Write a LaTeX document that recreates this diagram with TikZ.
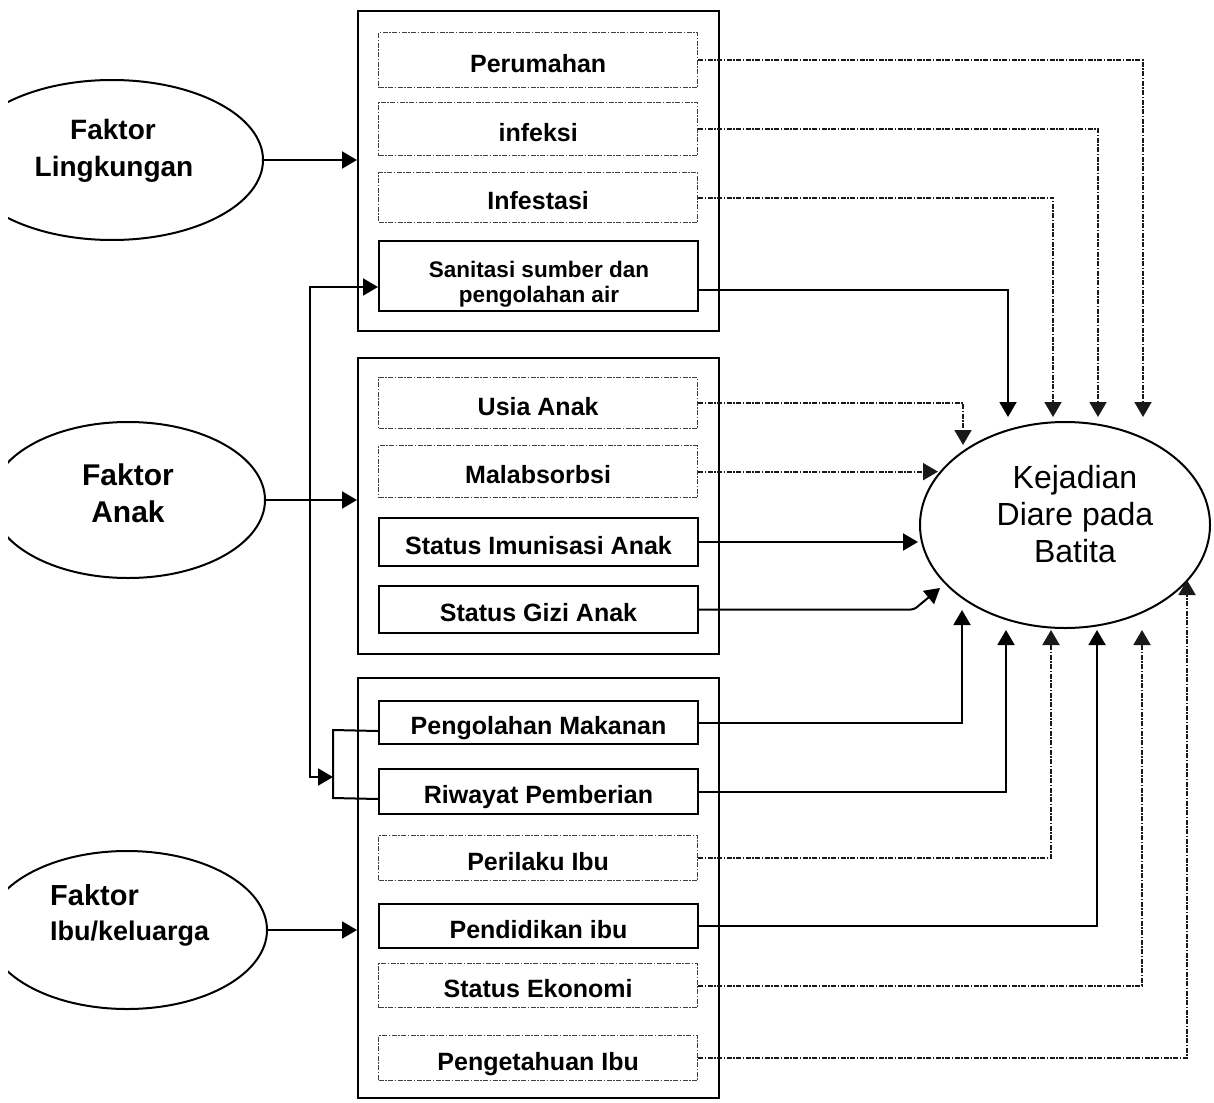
\documentclass[tikz,border=0pt]{standalone}
\usepackage{fontspec}
\setmainfont{Liberation Sans}
\usetikzlibrary{shapes.geometric,arrows.meta,calc}
\newcommand{\boxfont}{\bfseries\fontsize{25}{30}\selectfont}
\begin{document}
\begin{tikzpicture}[x=1pt,y=-1pt]
\tikzset{
  tip/.style={-{Triangle[length=15pt,width=17pt]}},
  solidline/.style={line width=2pt},
  dotdash/.style={dash pattern=on 5pt off 1.5pt on 1.5pt off 1.5pt},
  link/.style={solidline, tip},
  dlink/.style={line width=1.9pt, dotdash, tip, black!90},
  grp/.style={draw, line width=2.2pt, anchor=north west, inner sep=0pt},
  item/.style={draw, line width=2pt, anchor=north west, inner sep=0pt,
    minimum width=319pt, text height=30pt, text depth=6pt, font=\boxfont},
  ditem/.style={item, line width=1.3pt, dotdash, draw=black!75},
  ell/.style={draw, ellipse, line width=2pt, inner sep=0pt},
  lbl/.style={inner sep=0pt, anchor=base},
}
\fill[white] (0,0) rectangle (1214,1102);
\useasboundingbox (0,0) rectangle (1214,1102);

% factor ellipses on the left, cut by the page edge
\begin{scope}
  \clip (8,0) rectangle (400,1102);
  \node[ell, minimum width=302pt, minimum height=160pt] (ling) at (112,160) {};
  \node[ell, minimum width=274pt, minimum height=156pt] (anak) at (128,500) {};
  \node[ell, minimum width=280pt, minimum height=158pt] (ibu) at (127,930) {};
\end{scope}
\node[lbl, font=\bfseries\fontsize{28}{34}\selectfont] (lingA) at (113,140) {Faktor};
\node[lbl, font=\bfseries\fontsize{28}{34}\selectfont] (lingB) at (114,177) {Lingkungan};
\node[lbl, font=\bfseries\fontsize{30}{36}\selectfont] (anakA) at (128,485) {Faktor};
\node[lbl, font=\bfseries\fontsize{30}{36}\selectfont] (anakB) at (128,522) {Anak};
\node[lbl, anchor=base west, font=\bfseries\fontsize{29}{35}\selectfont] (ibuA) at (50,905) {Faktor};
\node[lbl, anchor=base west, font=\bfseries\fontsize{27}{33}\selectfont] (ibuB) at (50,940) {Ibu/keluarga};

% group frames
\node[grp, minimum width=361pt, minimum height=320pt] (g1) at (357,10) {};
\node[grp, minimum width=361pt, minimum height=296pt] (g2) at (357,357) {};
\node[grp, minimum width=361pt, minimum height=420pt] (g3) at (357,677) {};

% environment factors
\node[ditem, minimum height=55pt] (per) at (378,32) {Perumahan};
\node[ditem, minimum height=53pt] (inf) at (378,102) {infeksi};
\node[ditem, minimum height=50pt] (ist) at (378,172) {Infestasi};
\node[item, minimum height=70pt] (san) at (378,240) {};
\node[lbl, font=\bfseries\fontsize{22.5}{25}\selectfont] (sanA) at (539,277) {Sanitasi sumber dan};
\node[lbl, font=\bfseries\fontsize{22.5}{25}\selectfont] (sanB) at (539,302) {pengolahan air};

% child factors
\node[ditem, minimum height=51pt] (usia) at (378,377) {Usia Anak};
\node[ditem, minimum height=52pt] (mal) at (378,445) {Malabsorbsi};
\node[item, minimum height=48pt] (imu) at (378,517) {Status Imunisasi Anak};
\node[item, minimum height=47pt] (gizi) at (378,585) {Status Gizi Anak};

% mother / family factors
\node[item, minimum height=43pt] (mak) at (378,700) {Pengolahan Makanan\hspace{12pt}};
\node[item, minimum height=45pt] (riw) at (378,768) {Riwayat Pemberian\hspace{38pt}};
\node[ditem, minimum height=45pt] (pri) at (378,835) {Perilaku Ibu};
\node[item, minimum height=44pt] (pend) at (378,903) {Pendidikan ibu};
\node[ditem, minimum height=44pt] (eko) at (378,963) {Status Ekonomi};
\node[ditem, minimum height=45pt] (peng) at (378,1035) {Pengetahuan Ibu};

% outcome
\node[ell, minimum width=290pt, minimum height=206pt] (kej) at (1065,525) {};
\node[lbl, font=\fontsize{32}{37}\selectfont] (kejA) at (1075,488) {Kejadian};
\node[lbl, font=\fontsize{32}{37}\selectfont] (kejB) at (1075,525) {Diare pada};
\node[lbl, font=\fontsize{32}{37}\selectfont] (kejC) at (1075,562) {Batita};

% arrow end points around the outcome ellipse
\coordinate (tA) at (1008,417);
\coordinate (tB) at (1053,417);
\coordinate (tC) at (1098,417);
\coordinate (tD) at (1143,417);
\coordinate (tU) at (963,445);
\coordinate (tM) at (938,471);
\coordinate (tI) at (918,541);
\coordinate (gbend) at (914,608);
\coordinate (tG) at (940,588);
\coordinate (bA) at (962,610);
\coordinate (bB) at (1006,630);
\coordinate (bC) at (1051,630);
\coordinate (bD) at (1097,630);
\coordinate (bE) at (1142,630);
\coordinate (bF) at (1187,580);

% factors into their groups
\draw[link] (ling.east) -- (ling.east -| g1.west);
\draw[link] (anak.east) -- (anak.east -| g2.west);
\draw[link] (ibu.east) -- (ibu.east -| g3.west);

% link between water sanitation and food handling / feeding history
\coordinate (brkTop) at (333,730);
\coordinate (brkBot) at (333,798);
\coordinate (brkIn) at (333,777);
\coordinate (rail) at (310,777);
\draw[solidline, {Triangle[length=15pt,width=17pt]}-{Triangle[length=15pt,width=17pt]}]
  ($(san.west)+(0,11)$) -| (rail) -- (brkIn);
\draw[solidline] ($(mak.west)+(0,8.5)$) -- (brkTop) -- (brkBot) -- ($(riw.west)+(0,7.5)$);

% connectors into the outcome: from above
\draw[dlink] (per.east) -| (tD);
\draw[dlink] (inf.east) -| (tC);
\draw[dlink] (ist.east) -| (tB);
\draw[link] ($(san.east)+(0,14)$) -| (tA);

% from the left
\draw[dlink] (usia.east) -| (tU);
\draw[dlink] (mal.east) -- (mal.east -| tM);
\draw[link] (imu.east) -- (imu.east -| tI);
\draw[link, rounded corners=3pt] (gizi.east) -- (gizi.east -| gbend) -- (tG);

% from below
\draw[link] (mak.east) -| (bA);
\draw[link] (riw.east) -| (bB);
\draw[dlink] (pri.east) -| (bC);
\draw[link] (pend.east) -| (bD);
\draw[dlink] (eko.east) -| (bE);
\draw[dlink] (peng.east) -| (bF);
\end{tikzpicture}
\end{document}
